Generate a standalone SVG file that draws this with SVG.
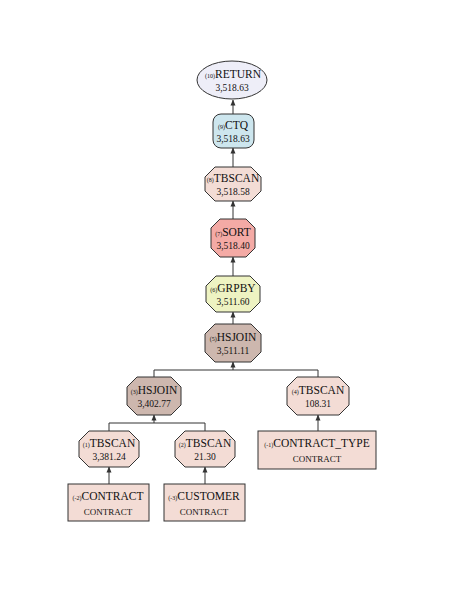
<svg xmlns="http://www.w3.org/2000/svg" width="451" height="597" viewBox="0 0 451 597">
<style>
text{font-family:"Liberation Serif","Times New Roman",serif;fill:#111;text-anchor:middle}
.t{font-size:11.5px}
.n{font-size:9.5px}
.s{font-size:6px}
.sub{font-size:9px}
.nd{stroke:#333;stroke-width:1}
.c{fill:none;stroke:#333;stroke-width:1}
.a{marker-end:url(#ah)}
</style>
<defs>
<marker id="ah" viewBox="0 0 6 6" refX="5.5" refY="3" markerWidth="6" markerHeight="6" orient="auto" markerUnits="userSpaceOnUse">
<path d="M0,0.5 L6,3 L0,5.5 Z" fill="#333"/>
</marker>
</defs>
<rect width="451" height="597" fill="#fff"/>
<g id="connectors">
<line class="c a" x1="233" y1="114" x2="233" y2="100"/>
<line class="c a" x1="233" y1="167" x2="233" y2="148"/>
<line class="c a" x1="233" y1="219" x2="233" y2="201"/>
<line class="c a" x1="233" y1="276" x2="233" y2="257"/>
<line class="c a" x1="233" y1="324" x2="233" y2="312"/>
<path class="c" d="M154 377 V370 H318 V377"/>
<line class="c a" x1="233" y1="370" x2="233" y2="362"/>
<path class="c" d="M109 431 V423 H205 V431"/>
<line class="c a" x1="154" y1="423" x2="154" y2="415"/>
<line class="c a" x1="318" y1="431" x2="318" y2="415"/>
<line class="c a" x1="109" y1="484" x2="109" y2="467"/>
<line class="c a" x1="205" y1="484" x2="205" y2="467"/>
</g>
<g id="n10">
<ellipse class="nd" cx="232" cy="80" rx="35" ry="19" fill="#eeeef8"/>
<text x="233" y="78" class="t"><tspan class="s">(10)</tspan>RETURN</text>
<text x="232" y="91" class="n">3,518.63</text>
</g>
<g id="n9">
<rect class="nd" x="213" y="114" width="41" height="34" rx="8" fill="#cde6ee"/>
<text x="233" y="129" class="t"><tspan class="s">(9)</tspan>CTQ</text>
<text x="233" y="142" class="n">3,518.63</text>
</g>
<g id="n8">
<polygon class="nd" points="215,167 251,167 261,177 261,191 251,201 215,201 205,191 205,177" fill="#f3dcd5"/>
<text x="233" y="182" class="t"><tspan class="s">(8)</tspan>TBSCAN</text>
<text x="233" y="195" class="n">3,518.58</text>
</g>
<g id="n7">
<polygon class="nd" points="220,219 246,219 255,228 255,248 246,257 220,257 211,248 211,228" fill="#f4aaa5"/>
<text x="233" y="236" class="t"><tspan class="s">(7)</tspan>SORT</text>
<text x="233" y="249" class="n">3,518.40</text>
</g>
<g id="n6">
<polygon class="nd" points="216,276 250,276 260,286 260,302 250,312 216,312 206,302 206,286" fill="#eef3c2"/>
<text x="233" y="292" class="t"><tspan class="s">(6)</tspan>GRPBY</text>
<text x="233" y="305" class="n">3,511.60</text>
</g>
<g id="n5">
<polygon class="nd" points="215,324 251,324 261,334 261,352 251,362 215,362 205,352 205,334" fill="#cdb7ae"/>
<text x="233" y="341" class="t"><tspan class="s">(5)</tspan>HSJOIN</text>
<text x="233" y="354" class="n">3,511.11</text>
</g>
<g id="n3">
<polygon class="nd" points="137,377 171,377 181,387 181,405 171,415 137,415 127,405 127,387" fill="#cdb7ae"/>
<text x="154" y="394" class="t"><tspan class="s">(3)</tspan>HSJOIN</text>
<text x="154" y="407" class="n">3,402.77</text>
</g>
<g id="n4">
<polygon class="nd" points="297,377 339,377 349,387 349,405 339,415 297,415 287,405 287,387" fill="#f3dcd5"/>
<text x="318" y="394" class="t"><tspan class="s">(4)</tspan>TBSCAN</text>
<text x="318" y="407" class="n">108.31</text>
</g>
<g id="n1">
<polygon class="nd" points="89,431 129,431 139,441 139,457 129,467 89,467 79,457 79,441" fill="#f3dcd5"/>
<text x="109" y="447" class="t"><tspan class="s">(1)</tspan>TBSCAN</text>
<text x="109" y="460" class="n">3,381.24</text>
</g>
<g id="n2">
<polygon class="nd" points="185,431 225,431 235,441 235,457 225,467 185,467 175,457 175,441" fill="#f3dcd5"/>
<text x="205" y="447" class="t"><tspan class="s">(2)</tspan>TBSCAN</text>
<text x="205" y="460" class="n">21.30</text>
</g>
<g id="t1">
<rect class="nd" x="258" y="431" width="118" height="38" fill="#f3dcd5"/>
<text x="317" y="447" class="t"><tspan class="s">(-1)</tspan>CONTRACT_TYPE</text>
<text x="317" y="462" class="sub">CONTRACT</text>
</g>
<g id="t2">
<rect class="nd" x="68" y="484" width="81" height="37" fill="#f3dcd5"/>
<text x="108" y="500" class="t"><tspan class="s">(-2)</tspan>CONTRACT</text>
<text x="108" y="515" class="sub">CONTRACT</text>
</g>
<g id="t3">
<rect class="nd" x="164" y="484" width="81" height="37" fill="#f3dcd5"/>
<text x="204" y="500" class="t"><tspan class="s">(-3)</tspan>CUSTOMER</text>
<text x="204" y="515" class="sub">CONTRACT</text>
</g>
</svg>
